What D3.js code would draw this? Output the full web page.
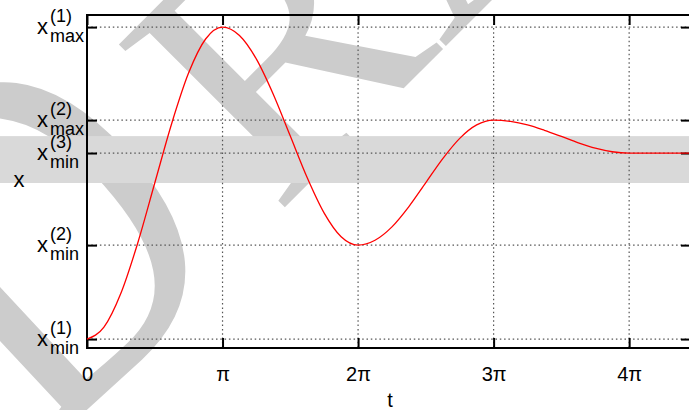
<!DOCTYPE html>
<meta charset="utf-8">
<style>
body { margin: 0; background: #fff; }
svg { display: block; font-family: "Liberation Sans", Arial, sans-serif; }
.grid line { stroke: #555; stroke-width: 1.2px; stroke-dasharray: 1.5,2.8; }
.axis line { stroke: #000; stroke-width: 2px; }
.axis path { display: none; }
.axis text { font-size: 20px; fill: #000; font-family: "Liberation Sans", Arial, sans-serif; }
.wm { font-family: "Liberation Serif", "DejaVu Serif", serif; fill: #cccccc; }
</style>
<svg width="689" height="410"></svg>
<script src="https://d3js.org/d3.v7.min.js"></script>
<script>

var svg = d3.select("svg"),
    width = +svg.attr("width"),
    height = +svg.attr("height");

// t is given in units of pi
var tTicks = [0, 1, 2, 3, 4],
    tTickLabels = ["0", "\u03c0", "2\u03c0", "3\u03c0", "4\u03c0"];

var xTicks = [0, 0.505, 1.0, 1.177, 1.677],
    xTickSub = ["min", "min", "min", "max", "max"],
    xTickSup = ["(1)", "(2)", "(3)", "(2)", "(1)"];

var band = [0.839, 1.091];

// points, every pi/8
var tSamples = [0, 0.125, 0.25, 0.375, 0.5, 0.625, 0.75, 0.875,
                1, 1.125, 1.25, 1.375, 1.5, 1.625, 1.75, 1.875,
                2, 2.125, 2.25, 2.375, 2.5, 2.625, 2.75, 2.875,
                3, 3.125, 3.25, 3.375, 3.5, 3.625, 3.75, 3.875,
                4, 4.25, 4.456];
var xSamples = [0, 0.064, 0.246, 0.518, 0.839, 1.159, 1.431, 1.613,
                1.677, 1.632, 1.505, 1.315, 1.091, 0.867, 0.677, 0.550,
                0.505, 0.531, 0.603, 0.712, 0.841, 0.970, 1.079, 1.151,
                1.177, 1.170, 1.151, 1.122, 1.089, 1.055, 1.026, 1.007,
                1.000, 1.000, 1.000];

var pLeft = 87, pRight = 691, pTop = 15, pBottom = 348;

var x = d3.scaleLinear().domain([0, 14]).range([pLeft, pRight]),
    y = d3.scaleLinear().domain([-0.048, 1.742]).range([pBottom, pTop]);

var data = tSamples.map(function(d, i) { return {t: d * Math.PI, v: xSamples[i]}; });

// watermark ("DRAFT" bent along an arc, only D, R, A in view)
svg.append("text")
    .attr("class", "wm")
    .attr("transform", "translate(79,417) rotate(-43) scale(0.78,1) translate(-64,0)")
    .style("font-size", "500px")
    .text("D");
svg.append("text")
    .attr("class", "wm")
    .attr("transform", "translate(276,216) rotate(-45)")
    .style("font-size", "355px")
    .text("RAFT");

// band
svg.append("rect")
    .attr("x", 0)
    .attr("width", width)
    .attr("y", y(band[1]))
    .attr("height", y(band[0]) - y(band[1]))
    .attr("fill", "#d9d9d9");

// grid
var grid = svg.append("g").attr("class", "grid");
grid.selectAll(".gx")
  .data(tTicks.slice(1))
  .enter().append("line")
    .attr("x1", function(d) { return x(d * Math.PI); })
    .attr("x2", function(d) { return x(d * Math.PI); })
    .attr("y1", pTop)
    .attr("y2", pBottom);
grid.selectAll(".gy")
  .data(xTicks)
  .enter().append("line")
    .attr("x1", pLeft)
    .attr("x2", pRight)
    .attr("y1", function(d) { return y(d); })
    .attr("y2", function(d) { return y(d); });

// axes (ticks on all four sides, pointing in)
var tVals = tTicks.map(function(d) { return d * Math.PI; });

svg.append("g")
    .attr("class", "axis")
    .attr("transform", "translate(0," + pBottom + ")")
    .call(d3.axisBottom(x).tickValues(tVals).tickSize(-10).tickPadding(19)
      .tickFormat(function(d, i) { return tTickLabels[i]; }));

svg.append("g")
    .attr("class", "axis")
    .attr("transform", "translate(0," + pTop + ")")
    .call(d3.axisTop(x).tickValues(tVals).tickSize(-10).tickFormat(""));

svg.append("g")
    .attr("class", "axis")
    .attr("transform", "translate(" + pLeft + ",0)")
    .call(d3.axisLeft(y).tickValues(xTicks).tickSize(-10).tickFormat(""));

svg.append("g")
    .attr("class", "axis")
    .attr("transform", "translate(" + pRight + ",0)")
    .call(d3.axisRight(y).tickValues(xTicks).tickSize(-10).tickFormat(""));

// frame
svg.append("rect")
    .attr("x", pLeft)
    .attr("y", pTop)
    .attr("width", pRight - pLeft)
    .attr("height", pBottom - pTop)
    .attr("fill", "none")
    .attr("stroke", "#000")
    .attr("stroke-width", 2);

// y tick labels: x with stacked sub/superscript
var lab = svg.append("g").selectAll("g")
  .data(xTicks)
  .enter().append("g")
    .attr("transform", function(d) { return "translate(0," + y(d) + ")"; });

lab.append("text")
    .attr("x", 37)
    .attr("y", 7)
    .style("font-size", "22px")
    .text("x");
lab.append("text")
    .attr("x", 50)
    .attr("y", 15)
    .style("font-size", "18px")
    .text(function(d, i) { return xTickSub[i]; });
lab.append("text")
    .attr("x", 50)
    .attr("y", -5)
    .style("font-size", "18px")
    .text(function(d, i) { return xTickSup[i]; });

// axis titles
svg.append("text")
    .attr("x", 390)
    .attr("y", 407)
    .attr("text-anchor", "middle")
    .style("font-size", "20px")
    .text("t");

svg.append("text")
    .attr("x", 19)
    .attr("y", 187)
    .attr("text-anchor", "middle")
    .style("font-size", "22px")
    .text("x");

// curve
var line = d3.line()
    .x(function(d) { return x(d.t); })
    .y(function(d) { return y(d.v); })
    .curve(d3.curveMonotoneX);

svg.append("path")
    .datum(data)
    .attr("fill", "none")
    .attr("stroke", "#ff0000")
    .attr("stroke-width", 1.3)
    .attr("d", line);

</script>
